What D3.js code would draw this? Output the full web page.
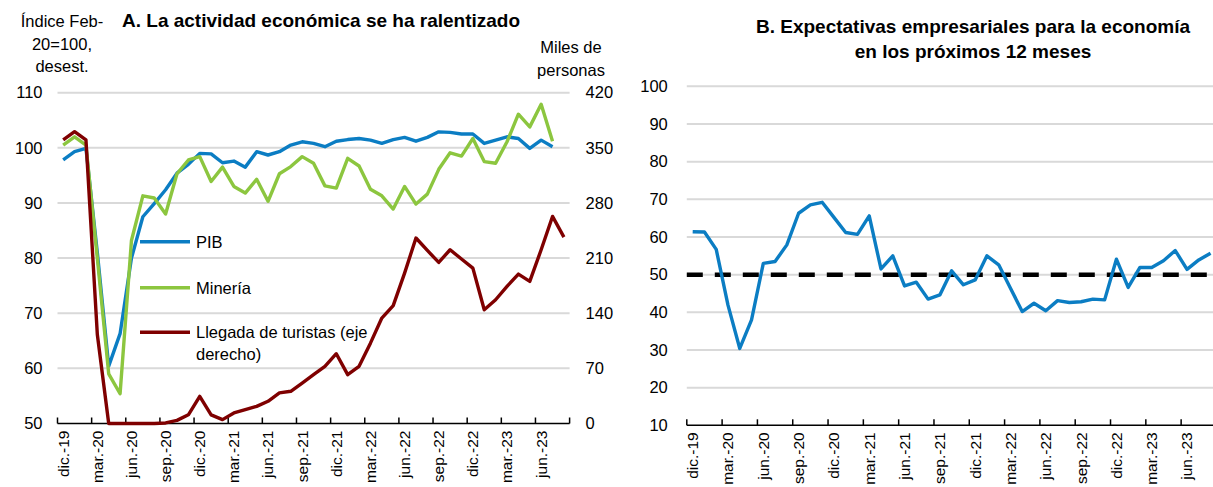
<!DOCTYPE html>
<html>
<head>
<meta charset="utf-8">
<script src="https://cdn.jsdelivr.net/npm/d3@7"></script>
<style>
  body { margin: 0; background: #fff; }
  svg text { font-family: "Liberation Sans Narrow", "Arial Narrow", "Liberation Sans", Arial, sans-serif; fill: #000; }
</style>
</head>
<body>
<svg id="chart" width="1213" height="487"></svg>
<script>
// Monthly categories, dic.-19 .. ago.-23
const monthNames = ["ene.", "feb.", "mar.", "abr.", "may.", "jun.", "jul.", "ago.", "sep.", "oct.", "nov.", "dic."];
const months = d3.range(45).map(i => {
  const m = (11 + i) % 12, y = 19 + Math.floor((11 + i) / 12);
  return monthNames[m] + "-" + y;
});
const tickMonths = months.filter((d, i) => i % 3 === 0);

// Panel A (index Feb-20 = 100, seasonally adjusted)
const pib = [97.8, 99.3, 99.9, 81, 60.4, 66.3, 80.0, 87.5, 89.9, 92.4, 95.4, 97.0,
  99.0, 98.9, 97.3, 97.6, 96.5, 99.3, 98.7, 99.3, 100.5, 101.1, 100.8, 100.2,
  101.2, 101.5, 101.7, 101.4, 100.8, 101.5, 101.9, 101.2, 101.9, 102.9, 102.8, 102.5,
  102.5, 100.8, 101.4, 102.0, 101.7, 99.9, 101.4, 100.2];
const mineria = [100.5, 102.0, 100.5, 80, 59.0, 55.4, 83.2, 91.3, 90.9, 88.0, 95.3, 97.8,
  98.4, 93.9, 96.5, 93.0, 91.8, 94.3, 90.3, 95.3, 96.6, 98.4, 97.2, 93.1,
  92.7, 98.1, 96.7, 92.5, 91.3, 88.9, 93.0, 89.8, 91.6, 96.1, 99.1, 98.5,
  101.7, 97.5, 97.2, 101.1, 106.1, 103.8, 107.9, 101.2];
// Tourist arrivals, thousands (right axis)
const turistas = [360, 370.5, 360, 113, 0, 0, 0, 0, 0, 0.7, 4, 11,
  34.5, 11, 4.9, 13.4, 17.6, 21.8, 28.2, 38.8, 40.9, 51.4, 62, 72.6,
  88.6, 62, 72.6, 102, 133.9, 149.6, 191, 235.5, 219.7, 204.5, 220.6, 208.8,
  197.3, 144.4, 157.1, 174, 189.7, 180.4, 220.6, 262.9, 236.7];

// Panel B (business expectations index)
const expectativas = [61.4, 61.3, 56.7, 41.9, 30.4, 38.0, 53.0, 53.5, 57.9, 66.3, 68.5, 69.2,
  65.2, 61.2, 60.7, 65.6, 51.5, 55.0, 47.0, 48.0, 43.5, 44.6, 51.0, 47.3,
  48.6, 55.0, 52.6, 46.4, 40.2, 42.4, 40.4, 43.1, 42.6, 42.8, 43.5, 43.3,
  54.1, 46.6, 51.9, 51.9, 53.7, 56.4, 51.4, 53.9, 55.7];
const umbral = 50;

const leftTicksA = [50, 60, 70, 80, 90, 100, 110];
const rightTicksA = [0, 70, 140, 210, 280, 350, 420];
const ticksB = [10, 20, 30, 40, 50, 60, 70, 80, 90, 100];

const BLUE = "#0b7dc3", GREEN = "#8cc63f", RED = "#7f0000", GRID = "#d9d9d9";

const svg = d3.select("#chart");

function monthAxis(g, x, y0, right) {
  const ax = d3.axisBottom(x).tickValues(tickMonths).tickSize(0).tickPadding(8);
  const ag = g.append("g").attr("transform", `translate(0,${y0})`).call(ax);
  ag.select(".domain").remove();
  ag.selectAll(".tick text")
    .attr("transform", "rotate(-90)")
    .attr("x", -7).attr("y", 0).attr("dy", "0.35em")
    .attr("text-anchor", "end")
    .style("font-size", "15.5px");
  // tick marks sit on category boundaries
  const bounds = tickMonths.map(m => x(m)).concat([x.range()[1]]);
  g.append("g").selectAll("line").data(bounds).join("line")
    .attr("x1", d => d).attr("x2", d => d)
    .attr("y1", y0).attr("y2", y0 - 6)
    .attr("stroke", "#000").attr("stroke-width", 1.5);
  g.append("line")
    .attr("x1", x.range()[0]).attr("x2", right)
    .attr("y1", y0).attr("y2", y0)
    .attr("stroke", "#000").attr("stroke-width", 1.5);
}

// ---------------- Panel A ----------------
{
  const x = d3.scaleBand().domain(months).range([57.5, 57.5 + 45 * 11.38]);
  const yL = d3.scaleLinear().domain([50, 110]).range([423.5, 92.7]);
  const yR = d3.scaleLinear().domain([0, 420]).range([423.5, 92.7]);
  const g = svg.append("g");
  const [xl, xr] = x.range();

  g.append("g").selectAll("line").data(leftTicksA.slice(1)).join("line")
    .attr("x1", xl).attr("x2", xr)
    .attr("y1", d => yL(d)).attr("y2", d => yL(d))
    .attr("stroke", GRID).attr("stroke-width", 2);

  const la = g.append("g").attr("transform", `translate(${xl - 15},0)`)
    .call(d3.axisLeft(yL).tickValues(leftTicksA).tickSize(0).tickPadding(0));
  la.select(".domain").remove();
  la.selectAll("text").style("font-size", "16.5px");

  const ra = g.append("g").attr("transform", `translate(${xr + 16},0)`)
    .call(d3.axisRight(yR).tickValues(rightTicksA).tickSize(0).tickPadding(0));
  ra.select(".domain").remove();
  ra.selectAll("text").style("font-size", "16.5px");

  monthAxis(g, x, 423.5, xr);

  const cx = (d, i) => x(months[i]) + x.bandwidth() / 2;
  const series = [
    { data: pib, y: yL, color: BLUE },
    { data: mineria, y: yL, color: GREEN },
    { data: turistas, y: yR, color: RED },
  ];
  series.forEach(s => {
    g.append("path").datum(s.data)
      .attr("fill", "none").attr("stroke", s.color).attr("stroke-width", 3.4)
      .attr("stroke-linejoin", "round")
      .attr("d", d3.line().x(cx).y(d => s.y(d)));
  });

  // legend
  const legend = [
    { label: ["PIB"], color: BLUE, y: 241.7 },
    { label: ["Minería"], color: GREEN, y: 287.7 },
    { label: ["Llegada de turistas (eje", "derecho)"], color: RED, y: 332.3 },
  ];
  const lg = g.append("g");
  legend.forEach(l => {
    lg.append("line").attr("x1", 140).attr("x2", 190).attr("y1", l.y).attr("y2", l.y)
      .attr("stroke", l.color).attr("stroke-width", 3.4);
    const t = lg.append("text").attr("x", 196).attr("y", l.y + 6).style("font-size", "16.5px");
    l.label.forEach((s, k) => t.append("tspan").attr("x", 196).attr("dy", k ? 22 : 0).text(s));
  });

  g.append("text").attr("x", 122).attr("y", 27)
    .style("font-size", "19px").style("font-weight", "bold")
    .text("A. La actividad económica se ha ralentizado");
  const lt = g.append("text").attr("text-anchor", "middle").style("font-size", "16.5px");
  ["Índice Feb-", "20=100,", "desest."].forEach((s, k) =>
    lt.append("tspan").attr("x", 62).attr("y", 27 + k * 22.5).text(s));
  const rt = g.append("text").attr("text-anchor", "middle").style("font-size", "16.5px");
  ["Miles de", "personas"].forEach((s, k) =>
    rt.append("tspan").attr("x", 571).attr("y", 53 + k * 22.5).text(s));
}

// ---------------- Panel B ----------------
{
  const x = d3.scaleBand().domain(months).range([686.8, 686.8 + 45 * 11.77]);
  const y = d3.scaleLinear().domain([10, 100]).range([425.3, 86.3]);
  const g = svg.append("g");
  const [xl, xr] = x.range();

  g.append("g").selectAll("line").data(ticksB.slice(1)).join("line")
    .attr("x1", xl).attr("x2", xr)
    .attr("y1", d => y(d)).attr("y2", d => y(d))
    .attr("stroke", GRID).attr("stroke-width", 2);

  const la = g.append("g").attr("transform", `translate(${xl - 19},0)`)
    .call(d3.axisLeft(y).tickValues(ticksB).tickSize(0).tickPadding(0));
  la.select(".domain").remove();
  la.selectAll("text").style("font-size", "16.5px");

  monthAxis(g, x, 425.3, xr);

  const cx = (d, i) => x(months[i]) + x.bandwidth() / 2;
  g.append("line")
    .attr("x1", xl).attr("x2", xr)
    .attr("y1", y(umbral)).attr("y2", y(umbral))
    .attr("stroke", "#000").attr("stroke-width", 4.5)
    .attr("stroke-dasharray", "16,12");
  g.append("path").datum(expectativas)
    .attr("fill", "none").attr("stroke", BLUE).attr("stroke-width", 3.4)
    .attr("stroke-linejoin", "round")
    .attr("d", d3.line().x(cx).y(d => y(d)));

  const tt = g.append("text").attr("text-anchor", "middle")
    .style("font-size", "19px").style("font-weight", "bold");
  ["B. Expectativas empresariales para la economía", "en los próximos 12 meses"].forEach((s, k) =>
    tt.append("tspan").attr("x", 973).attr("y", 33 + k * 25).text(s));
}
</script>
</body>
</html>
